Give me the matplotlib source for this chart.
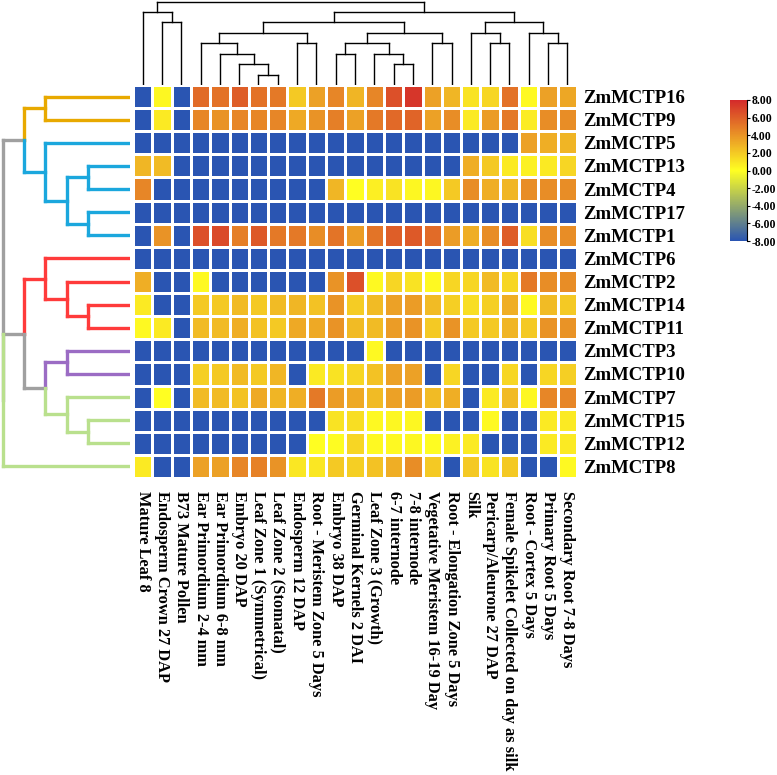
import numpy as np
import matplotlib.pyplot as plt
from matplotlib.colors import LinearSegmentedColormap

plt.rcParams['font.family'] = ['Liberation Serif', 'DejaVu Serif']
plt.rcParams['font.weight'] = 'bold'
plt.rcParams['axes.unicode_minus'] = False

genes = ['ZmMCTP16', 'ZmMCTP9', 'ZmMCTP5', 'ZmMCTP13', 'ZmMCTP4', 'ZmMCTP17',
         'ZmMCTP1', 'ZmMCTP6', 'ZmMCTP2', 'ZmMCTP14', 'ZmMCTP11', 'ZmMCTP3',
         'ZmMCTP10', 'ZmMCTP7', 'ZmMCTP15', 'ZmMCTP12', 'ZmMCTP8']

tissues = ['Mature Leaf 8', 'Endosperm Crown 27 DAP', 'B73 Mature Pollen',
           'Ear Primordium 2-4 mm', 'Ear Primordium 6-8 mm', 'Embryo 20 DAP',
           'Leaf Zone 1 (Symmetrical)', 'Leaf Zone 2 (Stomatal)', 'Endosperm 12 DAP',
           'Root - Meristem Zone 5 Days', 'Embryo 38 DAP', 'Germinal Kernels 2 DAI',
           'Leaf Zone 3 (Growth)', '6-7 internode', '7-8 internode',
           'Vegetative Meristem 16-19 Day', 'Root - Elongation Zone 5 Days', 'Silk',
           'Pericarp/Aleurone 27 DAP', 'Female Spikelet Collected on day as silk',
           'Root - Cortex 5 Days', 'Primary Root 5 Days', 'Secondary Root 7-8 Days']

# log2 expression, one list per gene (-8 = not expressed)
expr = [
    [-8, 0.3, -8, 5.5, 5.3, 6.0, 5.3, 5.0, 2.0, 3.5, 4.5, 2.8, 4.5, 6.5, 7.5, 3.5, 2.7, 1.0, 1.5, 5.3, 0.2, 3.5, 3.3],
    [-8, 0.8, -8, 4.5, 4.0, 4.5, 4.5, 4.5, 3.2, 4.0, 4.8, 3.5, 5.0, 5.6, 5.8, 3.5, 4.3, 0.8, 3.7, 5.0, 0.7, 4.3, 4.3],
    [-8, -8, -8, -8, -8, -8, -8, -8, -8, -8, -8, -8, -8, -8, -8, -8, -8, -8, -8, -8, 3.5, 3.0, 2.8],
    [2.7, 2.5, -8, -8, -8, -8, -8, -8, -8, -8, -8, -8, -8, -8, -8, -8, -8, 3.0, 2.0, 0.8, 0.5, 0.8, 1.5],
    [4.5, -8, -8, -8, -8, -8, -8, -8, -8, -8, 2.7, 0.0, 0.6, 1.0, 0.3, 0.3, 2.0, 4.3, 3.0, 2.7, 4.3, 4.3, 4.3],
    [-8, -8, -8, -8, -8, -8, -8, -8, -8, -8, -8, -8, -8, -8, -8, -8, -8, -8, -8, -8, -8, -8, -8],
    [-8, 4.0, -8, 6.5, 6.8, 4.8, 6.2, 5.0, 5.0, 4.3, 5.2, 3.7, 5.2, 6.0, 6.2, 5.5, 3.7, 3.0, 4.3, 6.0, 1.2, 4.3, 4.3],
    [-8, -8, -8, -8, -8, -8, -8, -8, -8, -8, -8, -8, -8, -8, -8, -8, -8, -8, -8, -8, -8, -8, -8],
    [3.0, -8, -8, 0.2, -8, -8, -8, -8, -8, -8, 4.0, 6.5, 0.2, 1.5, 1.0, 0.2, 1.5, 1.5, 2.5, 1.5, 5.0, 4.3, 4.3],
    [0.8, -8, -8, 2.0, 2.0, 2.5, 2.0, 2.5, 2.7, 2.3, 4.0, 1.9, 2.5, 3.5, 3.7, 2.5, 1.8, 1.2, 1.8, 3.0, 0.2, 2.5, 2.0],
    [0.2, 0.8, -8, 2.5, 2.5, 3.0, 2.3, 2.0, 3.2, 3.2, 4.0, 2.5, 2.5, 3.7, 4.0, 2.0, 4.0, 2.0, 2.0, 2.8, 2.0, 4.0, 4.0],
    [-8, -8, -8, -8, -8, -8, -8, -8, -8, -8, -8, -8, 0.2, -8, -8, -8, -8, -8, -8, -8, -8, -8, -8],
    [-8, -8, -8, 1.8, 2.0, 2.5, 2.0, 2.7, -8, 0.8, 1.0, 1.5, 2.3, 3.5, 3.5, -8, 1.5, -8, -8, 1.5, -8, 1.5, 1.8],
    [-8, 0.0, -8, 2.5, 2.5, 2.3, 3.2, 2.8, 3.0, 5.0, 3.7, 3.2, 2.5, 3.5, 3.7, 2.5, 3.0, -8, 0.8, 2.5, 0.3, 4.5, 4.5],
    [-8, -8, -8, -8, -8, -8, -8, -8, -8, -8, 1.0, 1.2, 0.2, 0.3, 0.3, -8, -8, -8, 0.2, -8, -8, 0.8, 0.8],
    [-8, -8, -8, -8, -8, -8, -8, -8, -8, 0.0, 0.1, 1.5, 0.2, 0.2, 0.3, 0.1, 0.5, 0.8, -8, -8, -8, 0.8, 0.8],
    [0.8, -8, -8, 3.5, 3.5, 4.5, 4.7, 4.0, 0.9, 0.9, 2.0, 1.8, 2.3, 3.0, 4.3, 2.0, -8, 2.0, 1.0, 2.0, -8, -8, 0.2],
]

# column tree: leaf = column index, node = (left, right, level)
col_tree = ((0, (1, 2, 6), 7),
            (((((3, (4, (5, (6, 7, 1), 2), 3), 4), (8, 9, 4), 5),
               (((10, 11, 3), (12, (13, 14, 2), 3), 4), (15, 16, 4), 5), 6),
              ((17, (18, 19, 4), 5), (20, (21, 22, 4), 5), 6), 7)), 8)

YEL, BLU, GRY = '#e8a900', '#1ba7dd', '#a0a0a0'
RED, PUR, GRN = '#ff3b3b', '#9b6cc4', '#b9e08d'

# row tree: (left, right, level, left leg colour, right leg colour, vertical colour or None=split)
row_tree = ((((0, 1, 4, YEL, YEL, YEL),
              (2, ((3, 4, 2, BLU, BLU, BLU), (5, 6, 2, BLU, BLU, BLU), 3, BLU, BLU, BLU), 4, BLU, BLU, BLU),
              5, YEL, BLU, None),
             (((7, (8, (9, 10, 2, RED, RED, RED), 3, RED, RED, RED), 4, RED, RED, RED),
               ((11, 12, 3, PUR, PUR, PUR),
                (13, (14, 15, 2, GRN, GRN, GRN), 3, GRN, GRN, GRN), 4, PUR, GRN, None),
               5, RED, GRY, None),
              16, 6, GRY, GRN, GRN),
             6, GRY, GRY, GRY))


def pos(n):
    if isinstance(n, int):
        return n + 0.5
    return (pos(n[0]) + pos(n[1])) / 2


def level(n):
    return 0 if isinstance(n, int) else n[2]


def draw(ax, n, vertical_tree, lw, default='black'):
    if isinstance(n, int):
        return
    p1, p2 = pos(n[0]), pos(n[1])
    h = n[2]
    if len(n) > 3:
        c1, c2, cv = n[3], n[4], n[5]
    else:
        c1 = c2 = cv = default
    m = (p1 + p2) / 2
    segs = [((p1, p1), (level(n[0]), h), c1), ((p2, p2), (level(n[1]), h), c2)]
    if cv:
        segs.append(((p1, p2), (h, h), cv))
    else:
        segs.append(((p1, m), (h, h), c1))
        segs.append(((m, p2), (h, h), c2))
    for xs, ys, c in segs:
        if vertical_tree:
            ax.plot(xs, ys, color=c, lw=lw, solid_capstyle='projecting')
        else:
            ax.plot(ys, xs, color=c, lw=lw, solid_capstyle='projecting')
    draw(ax, n[0], vertical_tree, lw, default)
    draw(ax, n[1], vertical_tree, lw, default)


W, H = 777, 775
fig = plt.figure(figsize=(W / 100, H / 100), dpi=100)

hx0, hx1, hy0, hy1 = 133, 577, 85, 478
ax = fig.add_axes([hx0 / W, 1 - hy1 / H, (hx1 - hx0) / W, (hy1 - hy0) / H])
cmap = LinearSegmentedColormap.from_list('byr', ['#2a55b2', '#ffff22', '#d42a2a'])
data = np.array(expr)
mesh = ax.pcolormesh(np.arange(len(tissues) + 1), np.arange(len(genes) + 1), data,
                     cmap=cmap, vmin=-8, vmax=8, edgecolors='white', linewidth=0.9)
ax.set_xlim(0, len(tissues))
ax.set_ylim(len(genes), 0)
for s in ax.spines.values():
    s.set_visible(False)
ax.yaxis.tick_right()
ax.set_yticks(np.arange(len(genes)) + 0.5)
ax.set_yticklabels(genes, fontsize=13.5, fontweight='bold')
ax.set_xticks(np.arange(len(tissues)) + 0.5)
ax.set_xticklabels(tissues, rotation=270, fontsize=11.8, fontweight='bold', va='top', ha='center')
ax.tick_params(axis='y', length=0, pad=4.5)
ax.tick_params(axis='x', length=0, pad=9.5)

# top dendrogram
axt = fig.add_axes([hx0 / W, 1 - hy0 / H, (hx1 - hx0) / W, hy0 / H])
draw(axt, col_tree, True, 1.0)
axt.set_xlim(0, len(tissues))
axt.set_ylim(0, 8.15)
axt.axis('off')

# left dendrogram
axl = fig.add_axes([0, 1 - hy1 / H, 130 / W, (hy1 - hy0) / H])
draw(axl, row_tree, False, 2.4)
axl.set_xlim(6.15, 0)
axl.set_ylim(len(genes), 0)
axl.axis('off')

# colorbar
cax = fig.add_axes([730 / W, 1 - 241 / H, 17 / W, 141 / H])
cb = fig.colorbar(mesh, cax=cax, ticks=np.arange(-8, 9, 2), format='%.2f')
cb.outline.set_visible(False)
cax.plot([1, 1], [0, 1], transform=cax.transAxes, color='black', lw=0.8, clip_on=False)
cax.tick_params(length=2.5, width=0.8, pad=0.5, labelsize=8.5)
for t in cax.get_yticklabels():
    t.set_fontweight('bold')

fig.savefig('out.png', dpi=100)
